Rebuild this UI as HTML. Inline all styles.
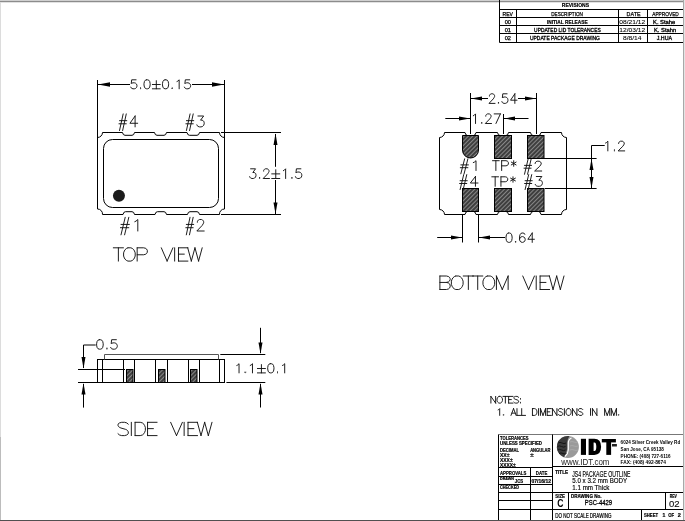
<!DOCTYPE html>
<html><head><meta charset="utf-8"><style>
html,body{margin:0;padding:0;background:#fff;width:685px;height:521px;overflow:hidden}
svg{display:block;filter:grayscale(1)}
text{font-family:"Liberation Sans",sans-serif}
</style></head><body>
<svg width="685" height="521" viewBox="0 0 685 521">
<defs>
<pattern id="hatch" patternUnits="userSpaceOnUse" width="3" height="3" patternTransform="rotate(-45)">
<rect width="3" height="3" fill="#3e3e3e"/><line x1="0" y1="1.5" x2="3" y2="1.5" stroke="#999" stroke-width="0.8"/>
</pattern>
</defs>
<!-- page border -->
<line x1="0" y1="0.5" x2="685" y2="0.5" stroke="#d0d0d0"/>
<line x1="0" y1="1.6" x2="685" y2="1.6" stroke="#8c8c8c" stroke-width="1.2"/>
<line x1="0.5" y1="2" x2="0.5" y2="437" stroke="#dcdcdc"/>
<line x1="0.5" y1="437" x2="0.5" y2="521" stroke="#bcbcbc"/>
<g fill="none" stroke="#000" stroke-width="1">
<!-- ===== TOP VIEW ===== -->
<line x1="97.5" y1="80" x2="97.5" y2="209"/>
<line x1="224.5" y1="80" x2="224.5" y2="209"/>
<line x1="98" y1="84.5" x2="130" y2="84.5"/>
<line x1="192" y1="84.5" x2="224" y2="84.5"/>
<path d="M102.5,132.5 H122.5 q0.5,2.8 2.5,2.8 H132 q2,0 2.5,-2.8 H154.5 q0.5,2.8 2.5,2.8 H164 q2,0 2.5,-2.8 H187 q0.5,2.8 2.5,2.8 H197 q2,0 2.5,-2.8 H219.5 A5,5 0 0 0 224.5,137.5"/>
<path d="M97.5,137.5 A5,5 0 0 0 102.5,132.5"/>
<path d="M97.5,209 A5,5 0 0 1 102.5,214.5 H123 q0.5,-2.8 2.5,-2.8 H132 q2,0 2.5,2.8 H155 q0.5,-2.8 2.5,-2.8 H164 q2,0 2.5,2.8 H187.5 q0.5,-2.8 2.5,-2.8 H197 q2,0 2.5,2.8 H219.5 A5,5 0 0 1 224.5,209"/>
<rect x="103.5" y="139.5" width="115" height="68" rx="9" ry="9"/>
<line x1="221" y1="132.5" x2="281" y2="132.5"/>
<line x1="221" y1="214.5" x2="281" y2="214.5"/>
<line x1="275.5" y1="134" x2="275.5" y2="166.8"/>
<line x1="275.5" y1="180" x2="275.5" y2="214"/>

<!-- ===== BOTTOM VIEW ===== -->
<path d="M444.5,132.5 H465 Q465.5,135.5 467.5,135.5 M473.5,135.5 Q475.5,135.5 476,132.5 H497.5 Q498,135.5 500,135.5 M506,135.5 Q508,135.5 508.5,132.5 H530.5 Q531,135.5 533,135.5 M538.5,135.5 Q540.5,135.5 541,132.5 H561.5 A5,5 0 0 0 566.5,137.5 V209.5 A5,5 0 0 0 561.5,214.5 H541 Q540.5,211.5 538.5,211.5 M533,211.5 Q531,211.5 530.5,214.5 H508.5 Q508,211.5 506,211.5 M500,211.5 Q498,211.5 497.5,214.5 H476 Q475.5,211.5 473.5,211.5 M467.5,211.5 Q465.5,211.5 465,214.5 H444.5 A5,5 0 0 0 439.5,209.5 V137.5 A5,5 0 0 0 444.5,132.5"/>
<line x1="470.5" y1="93" x2="470.5" y2="134"/>
<line x1="503.5" y1="114" x2="503.5" y2="134"/>
<line x1="536.5" y1="93" x2="536.5" y2="134"/>
<line x1="471" y1="98.5" x2="488" y2="98.5"/>
<line x1="518" y1="98.5" x2="536" y2="98.5"/>
<line x1="445.3" y1="118.5" x2="470" y2="118.5"/>
<line x1="504" y1="118.5" x2="528.5" y2="118.5"/>
<line x1="543.8" y1="158.5" x2="596.6" y2="158.5"/>
<line x1="545" y1="188.5" x2="596.6" y2="188.5"/>
<line x1="591.5" y1="145.5" x2="591.5" y2="188"/>
<line x1="591.5" y1="145.5" x2="604.7" y2="145.5"/>
<line x1="462.5" y1="214" x2="462.5" y2="242.5"/>
<line x1="478.5" y1="214" x2="478.5" y2="242.5"/>
<line x1="437.2" y1="237.5" x2="462" y2="237.5"/>
<line x1="479" y1="237.5" x2="505" y2="237.5"/>

<!-- ===== SIDE VIEW ===== -->
<line x1="78" y1="382.5" x2="224.5" y2="382.5"/>
<line x1="226.4" y1="382.5" x2="265.3" y2="382.5"/>
<line x1="78" y1="369.5" x2="125" y2="369.5"/>
<rect x="97.5" y="359.5" width="127" height="23"/>
<path d="M104.5,359.5 V354.5 H218.5 V359.5" stroke="#555"/>
<line x1="102.5" y1="359.5" x2="102.5" y2="382.5"/>
<line x1="123.5" y1="359.5" x2="123.5" y2="382.5"/>
<line x1="134.5" y1="359.5" x2="134.5" y2="382.5"/>
<line x1="155.5" y1="359.5" x2="155.5" y2="382.5"/>
<line x1="167.5" y1="359.5" x2="167.5" y2="382.5"/>
<line x1="188.5" y1="359.5" x2="188.5" y2="382.5"/>
<line x1="199.5" y1="359.5" x2="199.5" y2="382.5"/>
<line x1="219.5" y1="359.5" x2="219.5" y2="382.5"/>
<line x1="83.5" y1="345" x2="83.5" y2="368"/>
<line x1="83.5" y1="345" x2="95.7" y2="345"/>
<line x1="83.5" y1="384" x2="83.5" y2="407.6"/>
<line x1="220.3" y1="354.5" x2="265.3" y2="354.5"/>
<line x1="260.5" y1="327.8" x2="260.5" y2="353"/>
<line x1="260.5" y1="384" x2="260.5" y2="407.5"/>

<!-- ===== TITLE BLOCK ===== -->
<line x1="498.5" y1="434.5" x2="684" y2="434.5" stroke="#777"/>
<line x1="498.5" y1="434.5" x2="498.5" y2="520"/>
<line x1="552.5" y1="434.5" x2="552.5" y2="520"/>
<line x1="498.5" y1="467.5" x2="552.5" y2="467.5"/>
<line x1="552.5" y1="466.5" x2="684" y2="466.5"/>
<line x1="498.5" y1="476.5" x2="552.5" y2="476.5"/>
<line x1="498.5" y1="484.5" x2="552.5" y2="484.5"/>
<line x1="498.5" y1="492.5" x2="684" y2="492.5"/>
<line x1="498.5" y1="500.5" x2="552.5" y2="500.5"/>
<line x1="498.5" y1="509.5" x2="684" y2="509.5"/>
<line x1="530.5" y1="467.5" x2="530.5" y2="520"/>
<line x1="568.5" y1="492.5" x2="568.5" y2="509.5"/>
<line x1="665.5" y1="492.5" x2="665.5" y2="509.5"/>
<line x1="641.5" y1="509.5" x2="641.5" y2="520"/>

<!-- ===== REVISION TABLE ===== -->
<line x1="499.5" y1="0" x2="499.5" y2="42.5"/>
<line x1="499.5" y1="9.5" x2="684" y2="9.5"/>
<line x1="499.5" y1="17.5" x2="684" y2="17.5"/>
<line x1="499.5" y1="25.5" x2="684" y2="25.5"/>
<line x1="499.5" y1="33.5" x2="684" y2="33.5"/>
<line x1="499.5" y1="42.5" x2="684" y2="42.5"/>
<line x1="516.5" y1="9.5" x2="516.5" y2="42.5"/>
<line x1="618.5" y1="9.5" x2="618.5" y2="42.5"/>
<line x1="647.5" y1="9.5" x2="647.5" y2="42.5"/>
</g>

<!-- arrowheads -->
<g fill="#000">
<polygon points="98,84.5 110,82.3 110,86.7"/>
<polygon points="224,84.5 212,82.3 212,86.7"/>
<polygon points="275.5,133.5 273.5,145 277.5,145"/>
<polygon points="275.5,214 273.5,202.5 277.5,202.5"/>
<polygon points="471,98.5 482,96.5 482,100.5"/>
<polygon points="536,98.5 525,96.5 525,100.5"/>
<polygon points="470,118.5 459,116.5 459,120.5"/>
<polygon points="504,118.5 515,116.5 515,120.5"/>
<polygon points="591.5,159 589.5,170 593.5,170"/>
<polygon points="591.5,188 589.5,177 593.5,177"/>
<polygon points="462,237.5 451,235.5 451,239.5"/>
<polygon points="479,237.5 490,235.5 490,239.5"/>
<polygon points="83.5,368.5 81.5,357 85.5,357"/>
<polygon points="83.5,383 81.5,394.5 85.5,394.5"/>
<polygon points="260.5,354 258.5,342.5 262.5,342.5"/>
<polygon points="260.5,383 258.5,394.5 262.5,394.5"/>
</g>

<!-- dot -->
<circle cx="118.95" cy="195.8" r="6" fill="#1c1c1c"/>

<!-- pads bottom view -->
<g fill="url(#hatch)" stroke="#000" stroke-width="1">
<path d="M462.5,135.5 H478.5 V150 A8,8 0 0 1 462.5,150 Z"/>
<rect x="494.5" y="135.5" width="17" height="23"/>
<rect x="527.5" y="135.5" width="16.5" height="23"/>
<rect x="462.5" y="188.5" width="16" height="23"/>
<rect x="494.5" y="188.5" width="17" height="23"/>
<rect x="527.5" y="188.5" width="16.5" height="23"/>
<rect x="126.5" y="369.5" width="6.5" height="13"/>
<rect x="158.5" y="369.5" width="6.5" height="13"/>
<rect x="190.5" y="369.5" width="6.5" height="13"/>
</g>

<path fill="none" stroke="#111" stroke-width="0.95" stroke-linecap="round" stroke-linejoin="round" d="M136.08,79.80 L131.68,79.80 L131.24,83.66 L131.68,83.23 L133.00,82.80 L134.32,82.80 L135.64,83.23 L136.52,84.09 L136.96,85.37 L136.96,86.23 L136.52,87.51 L135.64,88.37 L134.32,88.80 L133.00,88.80 L131.68,88.37 L131.24,87.94 L130.80,87.09 M140.47,87.94 L140.03,88.37 L140.47,88.80 L140.91,88.37 L140.47,87.94 M146.63,79.80 L145.31,80.23 L144.43,81.51 L143.99,83.66 L143.99,84.94 L144.43,87.09 L145.31,88.37 L146.63,88.80 L147.51,88.80 L148.83,88.37 L149.71,87.09 L150.15,84.94 L150.15,83.66 L149.71,81.51 L148.83,80.23 L147.51,79.80 L146.63,79.80 M156.30,80.66 L156.30,88.80 M152.35,84.51 L160.26,84.51 M152.35,88.80 L160.26,88.80 M165.10,79.80 L163.78,80.23 L162.90,81.51 L162.46,83.66 L162.46,84.94 L162.90,87.09 L163.78,88.37 L165.10,88.80 L165.98,88.80 L167.30,88.37 L168.18,87.09 L168.61,84.94 L168.61,83.66 L168.18,81.51 L167.30,80.23 L165.98,79.80 L165.10,79.80 M172.13,87.94 L171.69,88.37 L172.13,88.80 L172.57,88.37 L172.13,87.94 M176.97,81.51 L177.85,81.09 L179.17,79.80 L179.17,88.80 M189.72,79.80 L185.32,79.80 L184.88,83.66 L185.32,83.23 L186.64,82.80 L187.96,82.80 L189.28,83.23 L190.16,84.09 L190.60,85.37 L190.60,86.23 L190.16,87.51 L189.28,88.37 L187.96,88.80 L186.64,88.80 L185.32,88.37 L184.88,87.94 L184.44,87.09 M250.60,168.80 L255.54,168.80 L252.84,172.50 L254.19,172.50 L255.09,172.96 L255.54,173.42 L255.99,174.80 L255.99,175.73 L255.54,177.11 L254.64,178.04 L253.29,178.50 L251.95,178.50 L250.60,178.04 L250.15,177.58 L249.70,176.65 M259.58,177.58 L259.13,178.04 L259.58,178.50 L260.03,178.04 L259.58,177.58 M263.62,171.11 L263.62,170.65 L264.07,169.72 L264.52,169.26 L265.42,168.80 L267.22,168.80 L268.11,169.26 L268.56,169.72 L269.01,170.65 L269.01,171.57 L268.56,172.50 L267.67,173.88 L263.17,178.50 L269.46,178.50 M275.75,169.72 L275.75,178.50 M271.71,173.88 L279.79,173.88 M271.71,178.50 L279.79,178.50 M283.39,170.65 L284.28,170.19 L285.63,168.80 L285.63,178.50 M291.92,177.58 L291.47,178.04 L291.92,178.50 L292.37,178.04 L291.92,177.58 M300.90,168.80 L296.41,168.80 L295.96,172.96 L296.41,172.50 L297.76,172.03 L299.11,172.03 L300.45,172.50 L301.35,173.42 L301.80,174.80 L301.80,175.73 L301.35,177.11 L300.45,178.04 L299.11,178.50 L297.76,178.50 L296.41,178.04 L295.96,177.58 L295.51,176.65 M123.16,113.92 L119.52,130.53 M126.27,113.92 L122.64,130.53 M119.52,120.67 L126.79,120.67 M119.00,123.79 L126.27,123.79 M135.10,116.00 L129.91,123.27 L137.70,123.27 M135.10,116.00 L135.10,126.90 M190.08,113.92 L186.42,130.53 M193.22,113.92 L189.56,130.53 M186.42,120.67 L193.74,120.67 M185.90,123.79 L193.22,123.79 M197.93,116.00 L203.68,116.00 L200.54,120.15 L202.11,120.15 L203.15,120.67 L203.68,121.19 L204.20,122.75 L204.20,123.79 L203.68,125.34 L202.63,126.38 L201.06,126.90 L199.49,126.90 L197.93,126.38 L197.40,125.86 L196.88,124.82 M125.20,217.31 L121.00,234.83 M128.80,217.31 L124.60,234.83 M121.00,224.43 L129.40,224.43 M120.40,227.71 L128.80,227.71 M134.80,221.69 L136.00,221.14 L137.80,219.50 L137.80,231.00 M190.01,217.31 L186.33,234.83 M193.16,217.31 L189.48,234.83 M186.33,224.43 L193.69,224.43 M185.80,227.71 L193.16,227.71 M197.37,222.24 L197.37,221.69 L197.89,220.60 L198.42,220.05 L199.47,219.50 L201.57,219.50 L202.62,220.05 L203.15,220.60 L203.67,221.69 L203.67,222.79 L203.15,223.88 L202.10,225.52 L196.84,231.00 L204.20,231.00 M118.38,247.80 L118.38,261.10 M113.30,247.80 L123.45,247.80 M127.95,247.80 L126.50,248.43 L125.05,249.70 L124.32,250.97 L123.60,252.87 L123.60,256.03 L124.32,257.93 L125.05,259.20 L126.50,260.47 L127.95,261.10 L130.85,261.10 L132.30,260.47 L133.75,259.20 L134.47,257.93 L135.20,256.03 L135.20,252.87 L134.47,250.97 L133.75,249.70 L132.30,248.43 L130.85,247.80 L127.95,247.80 M137.16,247.80 L137.16,261.10 M137.16,247.80 L143.68,247.80 L145.86,248.43 L146.58,249.07 L147.31,250.33 L147.31,252.23 L146.58,253.50 L145.86,254.13 L143.68,254.77 L137.16,254.77 M161.30,247.80 L167.10,261.10 M172.91,247.80 L167.10,261.10 M174.65,247.80 L174.65,261.10 M178.49,247.80 L178.49,261.10 M178.49,247.80 L187.92,247.80 M178.49,254.13 L184.29,254.13 M178.49,261.10 L187.92,261.10 M187.70,247.80 L191.32,261.10 M194.95,247.80 L191.32,261.10 M194.95,247.80 L198.57,261.10 M202.20,247.80 L198.57,261.10 M489.43,96.09 L489.43,95.63 L489.86,94.71 L490.29,94.26 L491.15,93.80 L492.88,93.80 L493.74,94.26 L494.17,94.71 L494.60,95.63 L494.60,96.54 L494.17,97.46 L493.31,98.83 L489.00,103.40 L495.03,103.40 M498.48,102.49 L498.05,102.94 L498.48,103.40 L498.91,102.94 L498.48,102.49 M507.09,93.80 L502.78,93.80 L502.35,97.91 L502.78,97.46 L504.08,97.00 L505.37,97.00 L506.66,97.46 L507.52,98.37 L507.95,99.74 L507.95,100.66 L507.52,102.03 L506.66,102.94 L505.37,103.40 L504.08,103.40 L502.78,102.94 L502.35,102.49 L501.92,101.57 M514.85,93.80 L510.54,100.20 L517.00,100.20 M514.85,93.80 L514.85,103.40 M473.30,115.73 L474.19,115.27 L475.52,113.90 L475.52,123.50 M481.74,122.59 L481.30,123.04 L481.74,123.50 L482.19,123.04 L481.74,122.59 M485.74,116.19 L485.74,115.73 L486.18,114.81 L486.63,114.36 L487.52,113.90 L489.29,113.90 L490.18,114.36 L490.63,114.81 L491.07,115.73 L491.07,116.64 L490.63,117.56 L489.74,118.93 L485.30,123.50 L491.51,123.50 M500.40,113.90 L495.96,123.50 M494.18,113.90 L500.40,113.90 M605.50,143.05 L606.44,142.59 L607.84,141.20 L607.84,150.90 M614.40,149.98 L613.93,150.44 L614.40,150.90 L614.87,150.44 L614.40,149.98 M618.61,143.51 L618.61,143.05 L619.08,142.12 L619.55,141.66 L620.49,141.20 L622.36,141.20 L623.30,141.66 L623.76,142.12 L624.23,143.05 L624.23,143.97 L623.76,144.90 L622.83,146.28 L618.14,150.90 L624.70,150.90 M508.62,233.00 L507.31,233.45 L506.44,234.79 L506.00,237.03 L506.00,238.37 L506.44,240.61 L507.31,241.95 L508.62,242.40 L509.50,242.40 L510.81,241.95 L511.68,240.61 L512.12,238.37 L512.12,237.03 L511.68,234.79 L510.81,233.45 L509.50,233.00 L508.62,233.00 M515.61,241.50 L515.18,241.95 L515.61,242.40 L516.05,241.95 L515.61,241.50 M524.79,234.34 L524.35,233.45 L523.04,233.00 L522.17,233.00 L520.86,233.45 L519.98,234.79 L519.54,237.03 L519.54,239.27 L519.98,241.06 L520.86,241.95 L522.17,242.40 L522.60,242.40 L523.91,241.95 L524.79,241.06 L525.22,239.71 L525.22,239.27 L524.79,237.92 L523.91,237.03 L522.60,236.58 L522.17,236.58 L520.86,237.03 L519.98,237.92 L519.54,239.27 M532.22,233.00 L527.85,239.27 L534.40,239.27 M532.22,233.00 L532.22,242.40 M464.63,158.83 L460.84,173.77 M467.88,158.83 L464.09,173.77 M460.84,164.90 L468.42,164.90 M460.30,167.70 L467.88,167.70 M473.29,162.57 L474.38,162.10 L476.00,160.70 L476.00,170.50 M495.87,160.70 L495.87,170.50 M492.50,160.70 L499.24,160.70 M501.65,160.70 L501.65,170.50 M501.65,160.70 L505.99,160.70 L507.43,161.17 L507.91,161.63 L508.39,162.57 L508.39,163.97 L507.91,164.90 L507.43,165.37 L505.99,165.83 L501.65,165.83 M513.69,160.70 L513.69,166.30 M511.28,162.10 L516.10,164.90 M516.10,162.10 L511.28,164.90 M528.05,159.33 L524.51,174.27 M531.08,159.33 L527.54,174.27 M524.51,165.40 L531.59,165.40 M524.00,168.20 L531.08,168.20 M535.13,163.53 L535.13,163.07 L535.63,162.13 L536.14,161.67 L537.15,161.20 L539.17,161.20 L540.18,161.67 L540.69,162.13 L541.19,163.07 L541.19,164.00 L540.69,164.93 L539.68,166.33 L534.62,171.00 L541.70,171.00 M463.69,174.63 L460.11,189.57 M466.76,174.63 L463.18,189.57 M460.11,180.70 L467.27,180.70 M459.60,183.50 L466.76,183.50 M475.44,176.50 L470.33,183.03 L478.00,183.03 M475.44,176.50 L475.44,186.30 M495.17,176.80 L495.17,186.30 M491.80,176.80 L498.54,176.80 M500.95,176.80 L500.95,186.30 M500.95,176.80 L505.29,176.80 L506.73,177.25 L507.21,177.70 L507.69,178.61 L507.69,179.97 L507.21,180.87 L506.73,181.32 L505.29,181.78 L500.95,181.78 M512.99,176.80 L512.99,182.23 M510.58,178.16 L515.40,180.87 M515.40,178.16 L510.58,180.87 M528.67,174.63 L525.11,189.57 M531.72,174.63 L528.16,189.57 M525.11,180.70 L532.23,180.70 M524.60,183.50 L531.72,183.50 M536.30,176.50 L541.89,176.50 L538.84,180.23 L540.37,180.23 L541.38,180.70 L541.89,181.17 L542.40,182.57 L542.40,183.50 L541.89,184.90 L540.87,185.83 L539.35,186.30 L537.82,186.30 L536.30,185.83 L535.79,185.37 L535.28,184.43 M439.90,276.00 L439.90,289.50 M439.90,276.00 L446.48,276.00 L448.68,276.64 L449.41,277.29 L450.14,278.57 L450.14,279.86 L449.41,281.14 L448.68,281.79 L446.48,282.43 M439.90,282.43 L446.48,282.43 L448.68,283.07 L449.41,283.71 L450.14,285.00 L450.14,286.93 L449.41,288.21 L448.68,288.86 L446.48,289.50 L439.90,289.50 M455.77,276.00 L454.31,276.64 L452.84,277.93 L452.11,279.21 L451.38,281.14 L451.38,284.36 L452.11,286.29 L452.84,287.57 L454.31,288.86 L455.77,289.50 L458.69,289.50 L460.16,288.86 L461.62,287.57 L462.35,286.29 L463.08,284.36 L463.08,281.14 L462.35,279.21 L461.62,277.93 L460.16,276.64 L458.69,276.00 L455.77,276.00 M468.35,276.00 L468.35,289.50 M463.23,276.00 L473.47,276.00 M477.71,276.00 L477.71,289.50 M472.59,276.00 L482.83,276.00 M487.36,276.00 L485.90,276.64 L484.44,277.93 L483.70,279.21 L482.97,281.14 L482.97,284.36 L483.70,286.29 L484.44,287.57 L485.90,288.86 L487.36,289.50 L490.29,289.50 L491.75,288.86 L493.21,287.57 L493.94,286.29 L494.67,284.36 L494.67,281.14 L493.94,279.21 L493.21,277.93 L491.75,276.64 L490.29,276.00 L487.36,276.00 M496.43,276.00 L496.43,289.50 M496.43,276.00 L502.28,289.50 M508.13,276.00 L502.28,289.50 M508.13,276.00 L508.13,289.50 M522.76,276.00 L528.61,289.50 M534.46,276.00 L528.61,289.50 M536.21,276.00 L536.21,289.50 M540.09,276.00 L540.09,289.50 M540.09,276.00 L549.59,276.00 M540.09,282.43 L545.94,282.43 M540.09,289.50 L549.59,289.50 M549.37,276.00 L553.03,289.50 M556.69,276.00 L553.03,289.50 M556.69,276.00 L560.34,289.50 M564.00,276.00 L560.34,289.50 M99.42,339.70 L98.01,340.15 L97.07,341.51 L96.60,343.77 L96.60,345.13 L97.07,347.39 L98.01,348.75 L99.42,349.20 L100.36,349.20 L101.77,348.75 L102.72,347.39 L103.19,345.13 L103.19,343.77 L102.72,341.51 L101.77,340.15 L100.36,339.70 L99.42,339.70 M106.95,348.30 L106.48,348.75 L106.95,349.20 L107.42,348.75 L106.95,348.30 M116.36,339.70 L111.65,339.70 L111.18,343.77 L111.65,343.32 L113.07,342.87 L114.48,342.87 L115.89,343.32 L116.83,344.22 L117.30,345.58 L117.30,346.49 L116.83,347.84 L115.89,348.75 L114.48,349.20 L113.07,349.20 L111.65,348.75 L111.18,348.30 L110.71,347.39 M236.80,365.45 L237.70,365.01 L239.04,363.70 L239.04,372.90 M245.31,372.02 L244.86,372.46 L245.31,372.90 L245.75,372.46 L245.31,372.02 M250.23,365.45 L251.13,365.01 L252.47,363.70 L252.47,372.90 M261.42,364.58 L261.42,372.90 M257.39,368.52 L265.45,368.52 M257.39,372.90 L265.45,372.90 M270.37,363.70 L269.03,364.14 L268.14,365.45 L267.69,367.64 L267.69,368.96 L268.14,371.15 L269.03,372.46 L270.37,372.90 L271.27,372.90 L272.61,372.46 L273.51,371.15 L273.96,368.96 L273.96,367.64 L273.51,365.45 L272.61,364.14 L271.27,363.70 L270.37,363.70 M277.54,372.02 L277.09,372.46 L277.54,372.90 L277.99,372.46 L277.54,372.02 M282.46,365.45 L283.36,365.01 L284.70,363.70 L284.70,372.90 M128.27,424.20 L126.80,422.93 L124.60,422.30 L121.67,422.30 L119.47,422.93 L118.00,424.20 L118.00,425.47 L118.73,426.73 L119.47,427.37 L120.93,428.00 L125.33,429.27 L126.80,429.90 L127.53,430.53 L128.27,431.80 L128.27,433.70 L126.80,434.97 L124.60,435.60 L121.67,435.60 L119.47,434.97 L118.00,433.70 M131.34,422.30 L131.34,435.60 M135.08,422.30 L135.08,435.60 M135.08,422.30 L140.22,422.30 L142.42,422.93 L143.88,424.20 L144.62,425.47 L145.35,427.37 L145.35,430.53 L144.62,432.43 L143.88,433.70 L142.42,434.97 L140.22,435.60 L135.08,435.60 M147.55,422.30 L147.55,435.60 M147.55,422.30 L157.08,422.30 M147.55,428.63 L153.41,428.63 M147.55,435.60 L157.08,435.60 M170.65,422.30 L176.51,435.60 M182.38,422.30 L176.51,435.60 M184.14,422.30 L184.14,435.60 M188.02,422.30 L188.02,435.60 M188.02,422.30 L197.56,422.30 M188.02,428.63 L193.89,428.63 M188.02,435.60 L197.56,435.60 M197.34,422.30 L201.00,435.60 M204.67,422.30 L201.00,435.60 M204.67,422.30 L208.33,435.60 M212.00,422.30 L208.33,435.60 M490.90,396.40 L490.90,403.10 M490.90,396.40 L495.64,403.10 M495.64,396.40 L495.64,403.10 M499.07,396.40 L498.40,396.72 L497.72,397.36 L497.38,398.00 L497.04,398.95 L497.04,400.55 L497.38,401.50 L497.72,402.14 L498.40,402.78 L499.07,403.10 L500.43,403.10 L501.11,402.78 L501.78,402.14 L502.12,401.50 L502.46,400.55 L502.46,398.95 L502.12,398.00 L501.78,397.36 L501.11,396.72 L500.43,396.40 L499.07,396.40 M505.35,396.40 L505.35,403.10 M502.98,396.40 L507.72,396.40 M508.64,396.40 L508.64,403.10 M508.64,396.40 L513.04,396.40 M508.64,399.59 L511.35,399.59 M508.64,403.10 L513.04,403.10 M518.61,397.36 L517.94,396.72 L516.92,396.40 L515.57,396.40 L514.55,396.72 L513.87,397.36 L513.87,398.00 L514.21,398.63 L514.55,398.95 L515.23,399.27 L517.26,399.91 L517.94,400.23 L518.28,400.55 L518.61,401.19 L518.61,402.14 L517.94,402.78 L516.92,403.10 L515.57,403.10 L514.55,402.78 L513.87,402.14 M520.66,398.63 L520.32,398.95 L520.66,399.27 L521.00,398.95 L520.66,398.63 M520.66,402.46 L520.32,402.78 L520.66,403.10 L521.00,402.78 L520.66,402.46 M498.10,409.90 L498.74,409.57 L499.70,408.60 L499.70,415.40 M503.55,414.75 L503.23,415.08 L503.55,415.40 L503.87,415.08 L503.55,414.75 M513.55,408.60 L510.99,415.40 M513.55,408.60 L516.11,415.40 M511.95,413.13 L515.15,413.13 M516.97,408.60 L516.97,415.40 M516.97,415.40 L520.81,415.40 M521.70,408.60 L521.70,415.40 M521.70,415.40 L525.53,415.40 M532.45,408.60 L532.45,415.40 M532.45,408.60 L534.69,408.60 L535.65,408.92 L536.29,409.57 L536.60,410.22 L536.92,411.19 L536.92,412.81 L536.60,413.78 L536.29,414.43 L535.65,415.08 L534.69,415.40 L532.45,415.40 M538.56,408.60 L538.56,415.40 M540.45,408.60 L540.45,415.40 M540.45,408.60 L543.00,415.40 M545.56,408.60 L543.00,415.40 M545.56,408.60 L545.56,415.40 M547.22,408.60 L547.22,415.40 M547.22,408.60 L551.37,408.60 M547.22,411.84 L549.78,411.84 M547.22,415.40 L551.37,415.40 M552.44,408.60 L552.44,415.40 M552.44,408.60 L556.91,415.40 M556.91,408.60 L556.91,415.40 M562.74,409.57 L562.11,408.92 L561.15,408.60 L559.87,408.60 L558.91,408.92 L558.27,409.57 L558.27,410.22 L558.59,410.87 L558.91,411.19 L559.55,411.51 L561.47,412.16 L562.11,412.49 L562.42,412.81 L562.74,413.46 L562.74,414.43 L562.11,415.08 L561.15,415.40 L559.87,415.40 L558.91,415.08 L558.27,414.43 M564.40,408.60 L564.40,415.40 M567.93,408.60 L567.29,408.92 L566.65,409.57 L566.33,410.22 L566.01,411.19 L566.01,412.81 L566.33,413.78 L566.65,414.43 L567.29,415.08 L567.93,415.40 L569.20,415.40 L569.84,415.08 L570.48,414.43 L570.80,413.78 L571.12,412.81 L571.12,411.19 L570.80,410.22 L570.48,409.57 L569.84,408.92 L569.20,408.60 L567.93,408.60 M572.44,408.60 L572.44,415.40 M572.44,408.60 L576.92,415.40 M576.92,408.60 L576.92,415.40 M582.75,409.57 L582.11,408.92 L581.15,408.60 L579.87,408.60 L578.92,408.92 L578.28,409.57 L578.28,410.22 L578.60,410.87 L578.92,411.19 L579.55,411.51 L581.47,412.16 L582.11,412.49 L582.43,412.81 L582.75,413.46 L582.75,414.43 L582.11,415.08 L581.15,415.40 L579.87,415.40 L578.92,415.08 L578.28,414.43 M590.52,408.60 L590.52,415.40 M592.45,408.60 L592.45,415.40 M592.45,408.60 L596.92,415.40 M596.92,408.60 L596.92,415.40 M604.63,408.60 L604.63,415.40 M604.63,408.60 L607.19,415.40 M609.74,408.60 L607.19,415.40 M609.74,408.60 L609.74,415.40 M611.30,408.60 L611.30,415.40 M611.30,408.60 L613.86,415.40 M616.41,408.60 L613.86,415.40 M616.41,408.60 L616.41,415.40 M618.58,414.75 L618.26,415.08 L618.58,415.40 L618.90,415.08 L618.58,414.75"/>
<g font-family="Liberation Sans"><text x="500.00" y="440.00" font-size="5.31" font-weight="bold" stroke="#000" stroke-width="0.2" fill="#000" textLength="28.50" lengthAdjust="spacingAndGlyphs">TOLERANCES</text>
<text x="500.00" y="445.00" font-size="5.31" font-weight="bold" stroke="#000" stroke-width="0.2" fill="#000" textLength="42.00" lengthAdjust="spacingAndGlyphs">UNLESS SPECIFIED</text>
<text x="500.00" y="451.80" font-size="5.03" font-weight="bold" stroke="#000" stroke-width="0.2" fill="#000" textLength="19.00" lengthAdjust="spacingAndGlyphs">DECIMAL</text>
<text x="530.20" y="451.80" font-size="5.03" font-weight="bold" stroke="#000" stroke-width="0.2" fill="#000" textLength="20.30" lengthAdjust="spacingAndGlyphs">ANGULAR</text>
<text x="500.00" y="457.00" font-size="5.59" font-weight="bold" stroke="#000" stroke-width="0.2" fill="#000" textLength="9.50" lengthAdjust="spacingAndGlyphs">XX±</text>
<text x="530.20" y="457.00" font-size="5.59" font-weight="bold" stroke="#000" stroke-width="0.2" fill="#000" textLength="3.40" lengthAdjust="spacingAndGlyphs">±</text>
<text x="500.00" y="461.80" font-size="5.59" font-weight="bold" stroke="#000" stroke-width="0.2" fill="#000" textLength="12.60" lengthAdjust="spacingAndGlyphs">XXX±</text>
<text x="500.00" y="466.60" font-size="5.59" font-weight="bold" stroke="#000" stroke-width="0.2" fill="#000" textLength="15.60" lengthAdjust="spacingAndGlyphs">XXXX±</text>
<text x="500.00" y="474.70" font-size="6.01" font-weight="bold" stroke="#000" stroke-width="0.2" fill="#000" textLength="26.30" lengthAdjust="spacingAndGlyphs">APPROVALS</text>
<text x="535.80" y="474.70" font-size="6.01" font-weight="bold" stroke="#000" stroke-width="0.2" fill="#000" textLength="11.50" lengthAdjust="spacingAndGlyphs">DATE</text>
<text x="500.00" y="480.20" font-size="4.19" font-weight="bold" stroke="#000" stroke-width="0.2" fill="#000" textLength="14.00" lengthAdjust="spacingAndGlyphs">DRAWN</text>
<text x="514.80" y="482.70" font-size="5.17" font-weight="bold" stroke="#000" stroke-width="0.2" fill="#000" textLength="8.40" lengthAdjust="spacingAndGlyphs">JCS</text>
<text x="531.50" y="483.30" font-size="4.61" font-weight="bold" stroke="#000" stroke-width="0.2" fill="#000" textLength="19.50" lengthAdjust="spacingAndGlyphs">07/16/12</text>
<text x="500.00" y="488.70" font-size="4.61" font-weight="bold" stroke="#000" stroke-width="0.2" fill="#000" textLength="19.00" lengthAdjust="spacingAndGlyphs">CHECKED</text>
<text x="555.30" y="473.90" font-size="4.61" font-weight="bold" stroke="#000" stroke-width="0.2" fill="#000" textLength="12.70" lengthAdjust="spacingAndGlyphs">TITLE</text>
<text x="572.30" y="476.50" font-size="8.24" stroke="#000" stroke-width="0.15" fill="#000" textLength="58.20" lengthAdjust="spacingAndGlyphs">JS4 PACKAGE OUTLINE</text>
<text x="572.30" y="483.10" font-size="6.84" stroke="#000" stroke-width="0.15" fill="#000" textLength="54.90" lengthAdjust="spacingAndGlyphs">5.0 x 3.2 mm BODY</text>
<text x="572.30" y="489.60" font-size="6.42" stroke="#000" stroke-width="0.15" fill="#000" textLength="37.10" lengthAdjust="spacingAndGlyphs">1.1 mm Thick</text>
<text x="555.30" y="497.50" font-size="4.61" font-weight="bold" stroke="#000" stroke-width="0.2" fill="#000" textLength="9.70" lengthAdjust="spacingAndGlyphs">SIZE</text>
<text x="557.20" y="507.40" font-size="10.20" font-weight="bold" fill="#000" textLength="6.20" lengthAdjust="spacingAndGlyphs">C</text>
<text x="571.00" y="497.90" font-size="4.75" font-weight="bold" stroke="#000" stroke-width="0.2" fill="#000" textLength="30.50" lengthAdjust="spacingAndGlyphs">DRAWING No.</text>
<text x="584.80" y="504.70" font-size="7.26" stroke="#000" stroke-width="0.3" fill="#000" textLength="27.20" lengthAdjust="spacingAndGlyphs">PSC-4429</text>
<text x="555.30" y="517.90" font-size="6.42" stroke="#000" stroke-width="0.22" fill="#000" textLength="56.10" lengthAdjust="spacingAndGlyphs">DO NOT SCALE DRAWING</text>
<text x="669.80" y="497.80" font-size="5.31" font-weight="bold" stroke="#000" stroke-width="0.2" fill="#000" textLength="7.10" lengthAdjust="spacingAndGlyphs">REV</text>
<text x="669.00" y="506.90" font-size="9.64" stroke="#111" stroke-width="0.15" fill="#111" textLength="10.60" lengthAdjust="spacingAndGlyphs">02</text>
<text x="644.00" y="517.30" font-size="5.03" font-weight="bold" stroke="#000" stroke-width="0.2" fill="#000" textLength="14.00" lengthAdjust="spacingAndGlyphs">SHEET</text>
<text x="662.50" y="517.30" font-size="5.03" font-weight="bold" stroke="#000" stroke-width="0.2" fill="#000" textLength="2.80" lengthAdjust="spacingAndGlyphs">1</text>
<text x="668.20" y="517.30" font-size="5.03" font-weight="bold" stroke="#000" stroke-width="0.2" fill="#000" textLength="5.90" lengthAdjust="spacingAndGlyphs">OF</text>
<text x="677.80" y="517.30" font-size="5.03" font-weight="bold" stroke="#000" stroke-width="0.2" fill="#000" textLength="3.10" lengthAdjust="spacingAndGlyphs">2</text>
<text x="561.20" y="465.40" font-size="8.66" fill="#222" textLength="48.30" lengthAdjust="spacingAndGlyphs">www.IDT.com</text>
<text x="620.60" y="444.20" font-size="5.45" font-weight="bold" fill="#000" textLength="59.60" lengthAdjust="spacingAndGlyphs">6024 Silver Creek Valley Rd</text>
<text x="620.60" y="451.40" font-size="5.03" font-weight="bold" fill="#000" textLength="43.20" lengthAdjust="spacingAndGlyphs">San Jose, CA 95138</text>
<text x="620.60" y="458.00" font-size="5.73" font-weight="bold" fill="#000" textLength="49.90" lengthAdjust="spacingAndGlyphs">PHONE: (408) 727-6116</text>
<text x="620.60" y="464.10" font-size="4.89" font-weight="bold" fill="#000" textLength="45.30" lengthAdjust="spacingAndGlyphs">FAX: (408) 492-8674</text>
<text x="561.80" y="7.40" font-size="5.59" font-weight="bold" stroke="#000" stroke-width="0.2" fill="#000" textLength="27.20" lengthAdjust="spacingAndGlyphs">REVISIONS</text>
<text x="502.60" y="15.80" font-size="5.59" stroke="#000" stroke-width="0.25" fill="#000" textLength="10.40" lengthAdjust="spacingAndGlyphs">REV</text>
<text x="551.20" y="15.80" font-size="6.01" stroke="#000" stroke-width="0.25" fill="#000" textLength="31.80" lengthAdjust="spacingAndGlyphs">DESCRIPTION</text>
<text x="626.60" y="15.80" font-size="6.01" stroke="#000" stroke-width="0.25" fill="#000" textLength="13.90" lengthAdjust="spacingAndGlyphs">DATE</text>
<text x="652.20" y="15.80" font-size="6.01" stroke="#000" stroke-width="0.25" fill="#000" textLength="26.60" lengthAdjust="spacingAndGlyphs">APPROVED</text>
<text x="504.70" y="23.60" font-size="5.59" stroke="#000" stroke-width="0.25" fill="#000" textLength="6.30" lengthAdjust="spacingAndGlyphs">00</text>
<text x="547.00" y="23.60" font-size="5.59" font-weight="bold" stroke="#000" stroke-width="0.2" fill="#000" textLength="40.60" lengthAdjust="spacingAndGlyphs">INITIAL RELEASE</text>
<text x="619.30" y="23.60" font-size="5.59" stroke="#000" stroke-width="0.08" fill="#000" textLength="25.90" lengthAdjust="spacingAndGlyphs">08/21/12</text>
<text x="653.00" y="23.60" font-size="5.59" stroke="#000" stroke-width="0.3" fill="#000" textLength="22.30" lengthAdjust="spacingAndGlyphs">K. Stahe</text>
<text x="504.70" y="31.80" font-size="5.59" stroke="#000" stroke-width="0.25" fill="#000" textLength="6.30" lengthAdjust="spacingAndGlyphs">01</text>
<text x="534.10" y="31.80" font-size="5.59" stroke="#000" stroke-width="0.3" fill="#000" textLength="66.60" lengthAdjust="spacingAndGlyphs">UPDATED LID TOLERANCES</text>
<text x="619.30" y="31.80" font-size="5.59" stroke="#000" stroke-width="0.08" fill="#000" textLength="25.90" lengthAdjust="spacingAndGlyphs">12/03/12</text>
<text x="654.00" y="31.80" font-size="5.59" stroke="#000" stroke-width="0.3" fill="#000" textLength="22.20" lengthAdjust="spacingAndGlyphs">K. Stahn</text>
<text x="504.70" y="40.10" font-size="5.59" stroke="#000" stroke-width="0.25" fill="#000" textLength="6.30" lengthAdjust="spacingAndGlyphs">02</text>
<text x="529.90" y="40.10" font-size="5.59" stroke="#000" stroke-width="0.3" fill="#000" textLength="70.10" lengthAdjust="spacingAndGlyphs">UPDATE PACKAGE DRAWING</text>
<text x="623.00" y="40.10" font-size="5.59" stroke="#000" stroke-width="0.08" fill="#000" textLength="18.50" lengthAdjust="spacingAndGlyphs">8/8/14</text>
<text x="656.70" y="40.10" font-size="5.59" stroke="#000" stroke-width="0.3" fill="#000" textLength="15.30" lengthAdjust="spacingAndGlyphs">J.HUA</text></g>
<g>
<circle cx="567.9" cy="447" r="11" fill="#9a9a9a"/>
<path d="M569.5,436.1 A11,11 0 0 0 564,457.3 Q566.5,453 567.3,449 V442 Q567.8,438.5 569.5,436.1 Z" fill="#3a3a3a"/>
<path d="M558,443 q2,-1.2 4,0 t4,0 M557.5,446.5 q2,-1.2 4,0 t4,0 M557.5,450 q2,-1.2 4,0 t4,0 M559,453.5 q2,-1.2 4,0 t4,0" stroke="#111" stroke-width="0.9" fill="none"/>
<path d="M571.5,438 Q568.3,439.5 568.3,443 V450 Q568,454 565,456.5" stroke="#fff" stroke-width="1.1" fill="none"/>
<path d="M570,442 q2,-1 4,0 t4,0 M570,446 q2,-1 4,0 t4,0 M570,450 q2,-1 4,0 t4,0" stroke="#b0b0b0" stroke-width="0.7" fill="none"/>
</g>
<g fill="#000">
<rect x="580.9" y="438.8" width="5.1" height="16.1"/>
<path fill-rule="evenodd" d="M588.6,438.8 H594.3 Q601.1,438.8 601.1,446.85 Q601.1,454.9 594.3,454.9 H588.6 Z M593.6,442.6 V451.1 H594.4 Q596.3,451.1 596.3,446.85 Q596.3,442.6 594.4,442.6 Z"/>
<rect x="601.8" y="439" width="14.1" height="3.4"/>
<rect x="606.3" y="439" width="4.8" height="15.9"/>
<rect x="612" y="444" width="4.9" height="2.5" fill="#222"/>
</g>

<line x1="683.5" y1="0" x2="683.5" y2="521" stroke="#a8a8a8"/>
<line x1="684.5" y1="0" x2="684.5" y2="521" stroke="#e4e4e4"/>
<line x1="0" y1="520.5" x2="685" y2="520.5" stroke="#505050"/>
</svg>
</body></html>
